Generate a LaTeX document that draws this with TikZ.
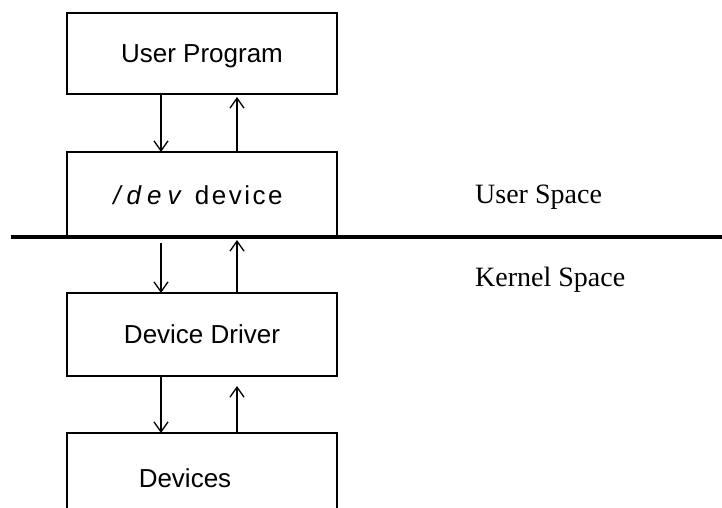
\documentclass[tikz,border=0pt]{standalone}
\usepackage{fontspec}
\setsansfont{Liberation Sans}
\setmainfont{Liberation Serif}
\usetikzlibrary{arrows.meta}
\begin{document}
\begin{tikzpicture}[x=1pt,y=-1pt,
  boxline/.style={line width=1.4pt},
  box/.style={boxline, minimum width=270pt, inner sep=0pt, outer sep=0pt},
  lbl/.style={font=\sffamily\fontsize{26}{30}\selectfont, inner sep=0pt},
  side/.style={font=\rmfamily\fontsize{28}{32}\selectfont, inner sep=0pt, anchor=west},
  arr/.style={line width=1.3pt, -{Straight Barb[length=10pt,width=14pt]}},
  divider/.style={line width=3.2pt}]
\useasboundingbox (0,0) rectangle (722,508);
% boxes
\node[box, draw, minimum height=81pt] (up) at (202,53.5) {};
\node[box, minimum height=85pt] (dev) at (202,194.5) {};
\draw[boxline] (dev.south west) -- (dev.north west) -- (dev.north east) -- (dev.south east);
\node[box, draw, minimum height=83pt] (dd) at (202,334.5) {};
\node[box, minimum height=75pt] (ds) at (202,470.5) {};
\draw[boxline] (ds.south west) -- (ds.north west) -- (ds.north east) -- (ds.south east);
% texts
\node[lbl] (tup) at (202,56) {User Program};
\node[lbl] (tdev) at (198,195) {\textit{/\kern6pt d\kern6pt e\kern6pt v}\kern6pt\ d\kern2.5pt e\kern2.5pt v\kern2.5pt i\kern2.5pt c\kern2.5pt e};
\node[lbl] (tdd) at (202,334) {Device Driver};
\node[lbl] (tds) at (185,478) {Devices};
% divider
\coordinate (lL) at (11,237);
\coordinate (lR) at (722,237);
\draw[divider] (lL) -- (lR);
\node[side] (us) at (475,197) {User Space};
\node[side] (ks) at (475,280) {Kernel Space};
% arrow columns
\coordinate (dx) at (161,0);
\coordinate (ux) at (237,0);
\draw[arr] (up.south -| dx) -- (dev.north -| dx);
\draw[arr] (dev.north -| ux) -- ([yshift=-3pt]up.south -| ux);
\draw[arr] ([yshift=-6pt]lL -| dx) -- (dd.north -| dx);
\draw[arr] (dd.north -| ux) -- ([yshift=-3pt]lL -| ux);
\draw[arr] (dd.south -| dx) -- (ds.north -| dx);
\draw[arr] (ds.north -| ux) -- ([yshift=-10pt]dd.south -| ux);
\end{tikzpicture}
\end{document}
